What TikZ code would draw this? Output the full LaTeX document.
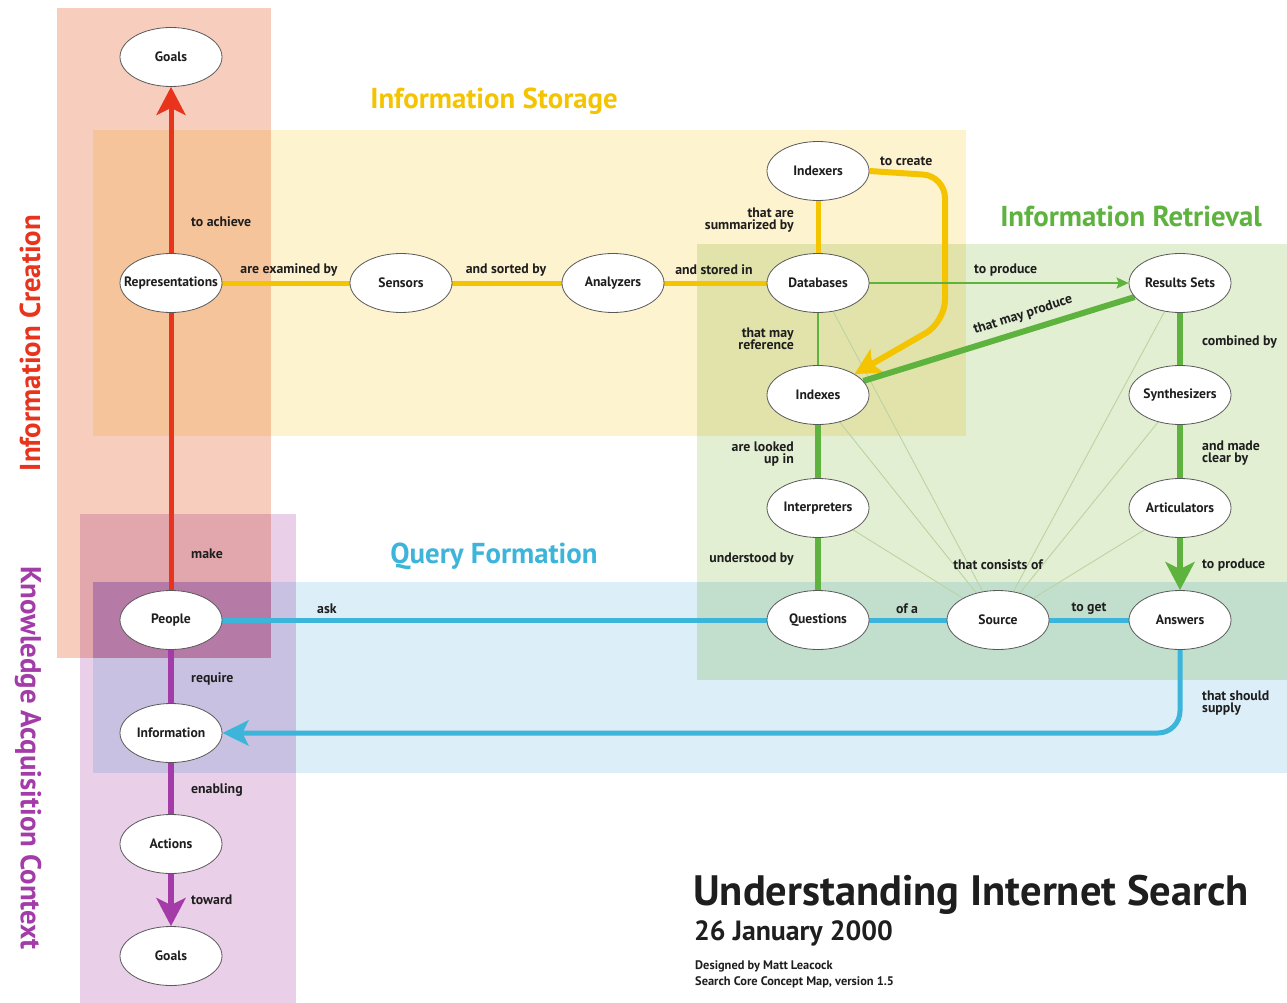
\documentclass[tikz,border=0pt]{standalone}
\usepackage{fontspec}
\setmainfont{PT Sans}
\usetikzlibrary{arrows.meta,shapes.geometric}
\pgfdeclarelayer{bg}
\pgfdeclarelayer{conn}
\pgfsetlayers{bg,conn,main}
\definecolor{cSalmon}{HTML}{F7CEBE}
\definecolor{cYellowBg}{HTML}{FEF3CF}
\definecolor{cGreenBg}{HTML}{E2EFD3}
\definecolor{cBlueBg}{HTML}{DCEEF8}
\definecolor{cPurpleBg}{HTML}{EACFE8}
\definecolor{cDeep}{HTML}{EDC9FC}
\definecolor{cRed}{HTML}{E8341C}
\definecolor{cYellow}{HTML}{F5C400}
\definecolor{cGreen}{HTML}{5DB33E}
\definecolor{cBlue}{HTML}{3DB5DA}
\definecolor{cPurple}{HTML}{A33CA8}
\definecolor{cThin}{HTML}{BDD3A2}
\definecolor{cTxt}{HTML}{1E1E1E}
\newcommand{\ctext}[1]{\makebox[0pt]{#1}}
\begin{document}
\begin{tikzpicture}[x=1pt,y=-1pt,
  concept/.style={ellipse,draw=black!65,line width=0.8pt,fill=white,minimum width=102pt,minimum height=59pt,inner sep=0pt,text=cTxt,font=\bfseries\fontsize{13.6}{15}\selectfont},
  lbl/.style={inner sep=0pt,text=cTxt,font=\bfseries\fontsize{13.8}{14}\selectfont,align=left},
  lblr/.style={lbl,align=right,anchor=east},
  region/.style={blend mode=multiply},
  ttl/.style={inner sep=0pt,font=\bfseries\fontsize{28.8}{32}\selectfont},
  redln/.style={draw=cRed,line width=5pt},
  yelln/.style={draw=cYellow,line width=5pt},
  grnthick/.style={draw=cGreen,line width=6pt},
  grnthin/.style={draw=cGreen,line width=2pt},
  bluln/.style={draw=cBlue,line width=5pt},
  purln/.style={draw=cPurple,line width=6pt},
  thinln/.style={draw=cThin,line width=0.9pt}
]
\useasboundingbox (0,0) rectangle (1287,1003);
\begin{pgfonlayer}{bg}
\fill[white] (0,0) rectangle (1287,1003);
\fill[cSalmon,region] (57,8) rectangle (271,658);
\fill[cYellowBg,region] (93,130) rectangle (966,436);
\fill[cGreenBg,region] (697,244) rectangle (1287,680);
\fill[cBlueBg,region] (93,582) rectangle (1287,773);
\fill[cPurpleBg,region] (80,514) rectangle (296,1003);
\fill[cDeep,region] (93,582) rectangle (271,658);
\end{pgfonlayer}

% titles
\node[ttl,text=cYellow] (tStorage) at (494,101) {Information Storage};
\node[ttl,text=cGreen] (tRetrieval) at (1131,216) {Information Retrieval};
\node[ttl,text=cBlue] (tQuery) at (494,556) {Query Formation};
\node[ttl,text=cRed,rotate=90] (tCreation) at (30,343) {Information Creation};
\node[ttl,text=cPurple,rotate=-90] (tKnow) at (28,758) {Knowledge Acquisition Context};

\node[inner sep=0pt,anchor=west,text=cTxt,font=\bfseries\fontsize{42.5}{46}\selectfont] (tMain) at (693,895) {Understanding Internet Search};
\node[inner sep=0pt,anchor=west,text=cTxt,font=\bfseries\fontsize{27.8}{30}\selectfont] (tDate) at (694,933) {26 January 2000};
\node[inner sep=0pt,anchor=west,text=cTxt,font=\bfseries\fontsize{12.4}{13}\selectfont] (tDes) at (695,966) {Designed by Matt Leacock};
\node[inner sep=0pt,anchor=west,text=cTxt,font=\bfseries\fontsize{12.4}{13}\selectfont] (tMap) at (695,982) {Search Core Concept Map, version 1.5};

% concepts
\node[concept] (goalsT) at (171,57) {\ctext{Goals}};
\node[concept] (rep) at (171,283) {\ctext{Representations}};
\node[concept] (sens) at (401,283) {\ctext{Sensors}};
\node[concept] (anal) at (613,283) {\ctext{Analyzers}};
\node[concept] (db) at (818,283) {\ctext{Databases}};
\node[concept] (idxr) at (818,171) {\ctext{Indexers}};
\node[concept] (idx) at (818,395) {\ctext{Indexes}};
\node[concept] (interp) at (818,508) {\ctext{Interpreters}};
\node[concept] (quest) at (818,620) {\ctext{Questions}};
\node[concept] (src) at (998,620) {\ctext{Source}};
\node[concept] (ans) at (1180,620) {\ctext{Answers}};
\node[concept] (rs) at (1180,283) {\ctext{Results Sets}};
\node[concept] (syn) at (1180,395) {\ctext{Synthesizers}};
\node[concept] (art) at (1180,508) {\ctext{Articulators}};
\node[concept] (people) at (171,620) {\ctext{People}};
\node[concept] (info) at (171,733) {\ctext{Information}};
\node[concept] (act) at (171,844) {\ctext{Actions}};
\node[concept] (goalsB) at (171,956) {\ctext{Goals}};

\coordinate (yc1) at (945,176);
\coordinate (yc2) at (945,322);
\coordinate (bc1) at (1180,733);

\begin{pgfonlayer}{conn}
% thin lines to Source
\draw[thinln] (src) -- (db);
\draw[thinln] (src) -- (idx);
\draw[thinln] (src) -- (interp);
\draw[thinln] (src) -- (rs);
\draw[thinln] (src) -- (syn);
\draw[thinln] (src) -- (art);
% red
\draw[redln] (people) -- (rep);
\draw[redln,-{Stealth[length=28pt,width=29pt,inset=7pt]}] (rep) -- (goalsT);
% yellow
\draw[yelln] (rep) -- (sens);
\draw[yelln] (sens) -- (anal);
\draw[yelln] (anal) -- (db);
\draw[yelln] (db) -- (idxr);
\draw[draw=cYellow,line width=6pt,rounded corners=22pt,-{Stealth[length=26pt,width=27pt,inset=6pt]}] (idxr.east) -- (yc1) -- (yc2) -- (idx);
% green
\draw[grnthin,-{Stealth[length=12pt,width=11pt,inset=2pt]}] (db) -- (rs);
\draw[grnthin] (db) -- (idx);
\draw[grnthick] (idx) -- (rs);
\draw[grnthick] (idx) -- (interp);
\draw[grnthick] (interp) -- (quest);
\draw[grnthick] (rs) -- (syn);
\draw[grnthick] (syn) -- (art);
\draw[grnthick,-{Stealth[length=28pt,width=29pt,inset=7pt]}] (art) -- (ans);
% blue
\draw[bluln] (people) -- (quest);
\draw[bluln] (quest) -- (src);
\draw[bluln] (src) -- (ans);
\draw[bluln,rounded corners=22pt,-{Stealth[length=26pt,width=25pt,inset=6pt]}] (ans.south) -- (bc1) -- (info.east);
% purple
\draw[purln] (people) -- (info);
\draw[purln] (info) -- (act);
\draw[purln,-{Stealth[length=28pt,width=29pt,inset=7pt]}] (act) -- (goalsB);
\end{pgfonlayer}

% labels
\node[lbl,anchor=west] (l1) at (191,222) {to achieve};
\node[lbl] (l2) at (289,270) {are examined by};
\node[lbl] (l3) at (506,270) {and sorted by};
\node[lbl] (l4) at (714,270) {and stored in};
\node[lblr] (l5) at (794,220) {that are\\[-2pt]summarized by};
\node[lbl,anchor=west] (l6) at (880,161) {to create};
\node[lbl,anchor=west] (l7) at (974,270) {to produce};
\node[lblr] (l8) at (794,339) {that may\\[-2pt]reference};
\node[lbl,rotate=17.6] (l9) at (1023,315) {that may produce};
\node[lbl,anchor=west] (l10) at (1202,342) {combined by};
\node[lblr] (l11) at (794,454) {are looked\\[-2pt]up in};
\node[lbl,anchor=west] (l12) at (1202,453) {and made\\[-2pt]clear by};
\node[lblr] (l13) at (794,559) {understood by};
\node[lbl] (l14) at (998,565) {that consists of};
\node[lbl,anchor=west] (l15) at (1202,565) {to produce};
\node[lbl,anchor=west] (l16) at (191,554) {make};
\node[lbl,anchor=west] (l17) at (317,609) {ask};
\node[lbl] (l18) at (907,609) {of a};
\node[lbl] (l19) at (1089,609) {to get};
\node[lbl,anchor=west] (l20) at (1202,703) {that should\\[-2pt]supply};
\node[lbl,anchor=west] (l21) at (191,679) {require};
\node[lbl,anchor=west] (l22) at (191,790) {enabling};
\node[lbl,anchor=west] (l23) at (191,900) {toward};
\end{tikzpicture}
\end{document}
